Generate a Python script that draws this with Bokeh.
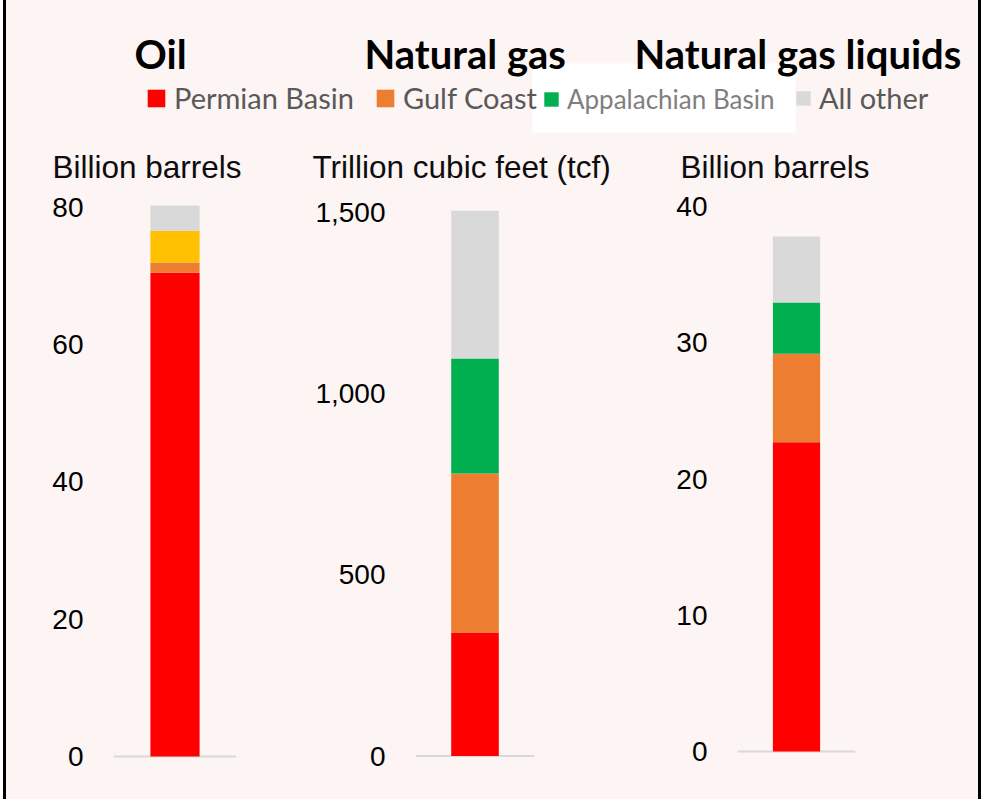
from bokeh.plotting import figure
from bokeh.layouts import column, row
from bokeh.models import (Range1d, FactorRange, FixedTicker, NumeralTickFormatter,
                          Span, Legend, LegendItem, BoxAnnotation, ColumnDataSource)
from bokeh.core.properties import value
from bokeh.embed import file_html
from bokeh.resources import INLINE

# ---------------- data ----------------
titles = ["Oil", "Natural gas", "Natural gas liquids"]
units = ["Billion barrels", "Trillion cubic feet (tcf)", "Billion barrels"]
series = ["Permian Basin", "Gulf Coast", "Other basin", "Appalachian Basin", "All other"]
legend_series = ["Permian Basin", "Gulf Coast", "Appalachian Basin", "All other"]
oil_values = [70.5, 1.5, 4.6, 0.0, 3.7]
gas_values = [341, 439, 0, 317, 408]
ngl_values = [22.7, 6.5, 0.0, 3.75, 4.85]
oil_ticks = [0, 20, 40, 60, 80]
gas_ticks = [0, 500, 1000, 1500]
ngl_ticks = [0, 10, 20, 30, 40]

# ---------------- styles / layout ----------------
colors = {"Permian Basin": "#FF0000", "Gulf Coast": "#ED7D31", "Other basin": "#FFC000",
          "Appalachian Basin": "#00B050", "All other": "#D9D9D9"}
BG = "#FDF4F4"
TOP_W = 972
TOP_H = 185
PANEL_H = 614
title_x = [128, 358, 628]
title_y = 53
unit_x = [46, 306, 674]
unit_y = 166


def panel(cat, vals, ticks, yrange, width, mb_left, mb_right):
    p = figure(x_range=FactorRange(factors=[cat], range_padding=0),
               y_range=Range1d(*yrange), width=width, height=PANEL_H,
               min_border_left=mb_left, min_border_right=mb_right,
               min_border_top=18, min_border_bottom=29,
               x_axis_location=None, output_backend="svg", toolbar_location=None,
               background_fill_color=BG, border_fill_color=BG, outline_line_color=None)
    data = {"cat": [cat]}
    for s, v in zip(series, vals):
        data[s] = [v]
    src = ColumnDataSource(data)
    p.vbar_stack(series, x="cat", width=0.4, source=src,
                 fill_color=[colors[s] for s in series], line_color=None)
    p.add_layout(Span(location=0, dimension="width", line_color="#D9D9D9",
                      line_width=2, level="underlay"))
    p.grid.visible = False
    ax = p.yaxis[0]
    ax.ticker = FixedTicker(ticks=ticks)
    ax.formatter = NumeralTickFormatter(format="0,0")
    ax.axis_line_color = None
    ax.major_tick_line_color = None
    ax.minor_tick_line_color = None
    ax.major_tick_out = 0
    ax.major_tick_in = 0
    ax.major_label_standoff = 30
    ax.major_label_text_font = "Liberation Sans"
    ax.major_label_text_font_size = "28px"
    ax.major_label_text_color = "#000000"
    return p


p1 = panel(titles[0], oil_values, oil_ticks, (-2.04, 80.58), 283, 107, 53)
p2 = panel(titles[1], gas_values, gas_ticks, (-40.0, 1524.8), 350, 126, 105)
p3 = panel(titles[2], ngl_values, ngl_ticks, (-1.39, 40.22), 339, 98, 123)

# ---------------- header ----------------
pt = figure(width=TOP_W, height=TOP_H, x_range=Range1d(0, TOP_W), y_range=Range1d(TOP_H, 0),
            min_border=0, x_axis_location=None, y_axis_location=None,
            output_backend="svg", toolbar_location=None,
            background_fill_color=BG, border_fill_color=BG, outline_line_color=None)
pt.grid.visible = False
pt.add_layout(BoxAnnotation(left=526, right=789, top=63, bottom=132, fill_color="white",
                            fill_alpha=1, line_alpha=0, level="underlay"))
pt.text(x=title_x, y=[title_y] * 3, text=titles, text_font=value("Lato"),
        text_font_style="bold", text_font_size="40px", text_baseline="alphabetic",
        text_color="#000000")
pt.text(x=unit_x, y=[unit_y] * 3, text=units, text_font=value("Liberation Sans"),
        text_font_size="31.5px", text_baseline="alphabetic", text_color="#0D0D0D")

renderers = {}
for s in legend_series:
    renderers[s] = pt.vbar(x=[-50], top=[0], width=1, fill_color=colors[s], line_color=None)

# legend y location is measured from the bottom of the header frame
legend_groups = [
    (legend_series[0:2], (139, 70), 22, 7, "29px", "#595959", 20),
    (legend_series[2:3], (536, 70), 18, 7, "26px", "#7F7F7F", 0),
    (legend_series[3:4], (788, 70), 18, 7, "29px", "#595959", 0),
]
for names, loc, gsize, standoff, fsize, fcolor, spacing in legend_groups:
    leg = Legend(items=[LegendItem(label=n, renderers=[renderers[n]]) for n in names],
                 orientation="horizontal", location=loc,
                 glyph_width=gsize, glyph_height=gsize, label_standoff=standoff,
                 spacing=spacing, padding=0, margin=0,
                 background_fill_alpha=0, border_line_alpha=0,
                 label_text_font="Lato", label_text_font_size=fsize,
                 label_text_color=fcolor)
    pt.add_layout(leg)

lay = column(pt, row(p1, p2, p3, spacing=0), spacing=0,
             styles={"border-left": "3px solid #000000", "border-right": "3px solid #000000",
                     "margin-left": "3px", "background-color": BG})

open("out.html", "w").write(file_html(lay, INLINE))
